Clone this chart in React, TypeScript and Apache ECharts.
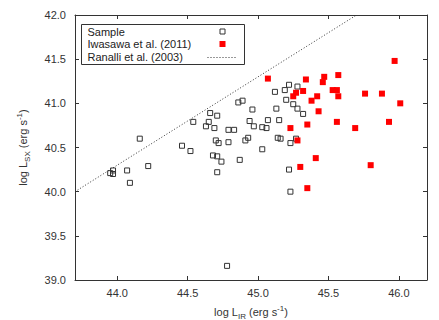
import React, { useEffect, useRef } from "react";
import * as echarts from "echarts";

const sampleX = [44.54, 44.16, 44.46, 44.52, 44.22, 44.07, 43.97, 43.95, 43.97, 44.09, 44.86, 44.89, 44.96, 44.66, 44.71, 44.65, 44.63, 44.69, 44.94, 44.97, 44.79, 44.83, 44.70, 44.72, 44.79, 44.93, 44.91, 44.68, 44.71, 44.74, 44.87, 44.71, 45.22, 45.28, 45.12, 45.19, 45.20, 45.25, 45.28, 45.32, 45.13, 45.07, 45.15, 45.03, 45.06, 45.14, 45.16, 45.27, 45.23, 45.03, 45.22, 45.23, 44.78];
const sampleY = [40.79, 40.60, 40.52, 40.46, 40.29, 40.24, 40.24, 40.21, 40.20, 40.10, 41.01, 41.03, 40.93, 40.89, 40.86, 40.79, 40.74, 40.72, 40.80, 40.74, 40.70, 40.70, 40.58, 40.55, 40.56, 40.61, 40.58, 40.41, 40.40, 40.34, 40.36, 40.22, 41.21, 41.19, 41.13, 41.15, 41.04, 40.99, 40.94, 40.88, 40.94, 40.81, 40.81, 40.73, 40.72, 40.61, 40.60, 40.60, 40.55, 40.48, 40.25, 40.00, 39.16];

const iwasawaX = [45.07, 45.34, 45.47, 45.57, 45.46, 45.32, 45.27, 45.25, 45.42, 45.38, 45.53, 45.56, 45.57, 45.76, 45.88, 45.97, 46.01, 45.43, 45.56, 45.35, 45.23, 45.69, 45.93, 45.28, 45.41, 45.30, 45.80, 45.35];
const iwasawaY = [41.28, 41.27, 41.30, 41.32, 41.24, 41.14, 41.12, 41.08, 41.08, 41.03, 41.15, 41.15, 41.08, 41.11, 41.11, 41.48, 41.00, 40.91, 40.79, 40.76, 40.72, 40.72, 40.79, 40.58, 40.38, 40.28, 40.30, 40.04];

const ranalliX = [43.7, 45.7];
const ranalliY = [40.0, 42.0];

const xTicks = [44.0, 44.5, 45.0, 45.5, 46.0];
const yTicks = [39.0, 39.5, 40.0, 40.5, 41.0, 41.5, 42.0];

const legendNames = ["Sample", "Iwasawa et al. (2011)", "Ranalli et al. (2003)"];

const FONT = "Liberation Sans, Arial, sans-serif";
const INK = "#333";

export default function App() {
  const ref = useRef<HTMLDivElement>(null);
  useEffect(() => {
    const chart = echarts.init(ref.current!, null, { renderer: "svg" });
    const rich = {
      n: { fontSize: 11, lineHeight: 16, verticalAlign: "middle", fontFamily: FONT, color: INK },
      sub: { fontSize: 8, lineHeight: 8, verticalAlign: "bottom", fontFamily: FONT, color: INK },
      sup: { fontSize: 8, lineHeight: 8, verticalAlign: "top", fontFamily: FONT, color: INK },
    };
    const axisCommon = {
      type: "value" as const,
      splitLine: { show: false },
      axisLine: { show: true, onZero: false, lineStyle: { color: INK, width: 1 } },
    };
    chart.setOption({
      animation: false,
      backgroundColor: "#fff",
      grid: { left: 75, right: 12, top: 15, bottom: 40, containLabel: false, outerBoundsMode: "none" },
      xAxis: [
        {
          ...axisCommon,
          position: "bottom",
          min: 43.7,
          max: 46.2,
          axisTick: { show: true, inside: true, length: 4, customValues: xTicks, lineStyle: { color: INK } },
          axisLabel: {
            customValues: xTicks,
            formatter: (v: number) => v.toFixed(1),
            color: INK,
            fontSize: 11,
            fontFamily: FONT,
            margin: 7,
          },
          name: "{n|log L}{sub|IR}{n| (erg s}{sup|-1}{n|)}",
          nameLocation: "middle",
          nameGap: 24,
          nameTextStyle: { rich },
        },
        {
          ...axisCommon,
          position: "top",
          min: 43.7,
          max: 46.2,
          axisTick: { show: true, inside: true, length: 4, customValues: xTicks, lineStyle: { color: INK } },
          axisLabel: { show: false },
        },
      ],
      yAxis: [
        {
          ...axisCommon,
          position: "left",
          min: 39,
          max: 42,
          axisTick: { show: true, inside: true, length: 4, customValues: yTicks, lineStyle: { color: INK } },
          axisLabel: {
            customValues: yTicks,
            formatter: (v: number) => v.toFixed(1),
            color: INK,
            fontSize: 11,
            fontFamily: FONT,
            margin: 9,
          },
          name: "{n|log L}{sub|SX}{n| (erg s}{sup|-1}{n|)}",
          nameLocation: "middle",
          nameRotate: 90,
          nameGap: 44,
          nameTextStyle: { rich },
        },
        {
          ...axisCommon,
          position: "right",
          min: 39,
          max: 42,
          axisTick: { show: true, inside: true, length: 4, customValues: yTicks, lineStyle: { color: INK } },
          axisLabel: { show: false },
        },
      ],
      series: [
        {
          name: legendNames[0],
          type: "scatter",
          xAxisIndex: 0,
          yAxisIndex: 0,
          symbol: "rect",
          symbolSize: 5,
          itemStyle: { color: "rgba(255,255,255,0)", borderColor: INK, borderWidth: 1, opacity: 1 },
          data: sampleX.map((x, i) => [x, sampleY[i]]),
          z: 2,
        },
        {
          name: legendNames[1],
          type: "scatter",
          xAxisIndex: 0,
          yAxisIndex: 0,
          symbol: "rect",
          symbolSize: 6,
          itemStyle: { color: "#ff0000", opacity: 1 },
          data: iwasawaX.map((x, i) => [x, iwasawaY[i]]),
          z: 3,
        },
        {
          name: legendNames[2],
          type: "line",
          xAxisIndex: 0,
          yAxisIndex: 0,
          symbol: "none",
          lineStyle: { color: INK, width: 1, type: [1, 2] },
          data: ranalliX.map((x, i) => [x, ranalliY[i]]),
          z: 1,
        },
      ],
      graphic: [
        {
          type: "group",
          left: 81,
          top: 24,
          z: 100,
          children: [
            { type: "rect", shape: { x: 0, y: 0, width: 163, height: 40 }, style: { fill: "#fff", stroke: INK, lineWidth: 1 } },
            { type: "text", x: 6, y: 7, style: { text: legendNames[0], font: `11px ${FONT}`, fill: "#222", verticalAlign: "middle" } },
            { type: "text", x: 6, y: 19.5, style: { text: legendNames[1], font: `11px ${FONT}`, fill: "#222", verticalAlign: "middle" } },
            { type: "text", x: 6, y: 32, style: { text: legendNames[2], font: `11px ${FONT}`, fill: "#222", verticalAlign: "middle" } },
            { type: "rect", shape: { x: 138.5, y: 4.5, width: 5, height: 5 }, style: { fill: "#fff", stroke: INK, lineWidth: 1 } },
            { type: "rect", shape: { x: 138, y: 16.5, width: 6, height: 6 }, style: { fill: "#ff0000" } },
            { type: "line", shape: { x1: 126, y1: 33, x2: 155, y2: 33 }, style: { stroke: INK, lineWidth: 1, lineDash: [1, 2] } },
          ],
        },
      ],
    });
    return () => chart.dispose();
  }, []);
  return <div ref={ref} style={{ position: "fixed", left: 0, top: 0, width: 439, height: 320 }} />;
}
